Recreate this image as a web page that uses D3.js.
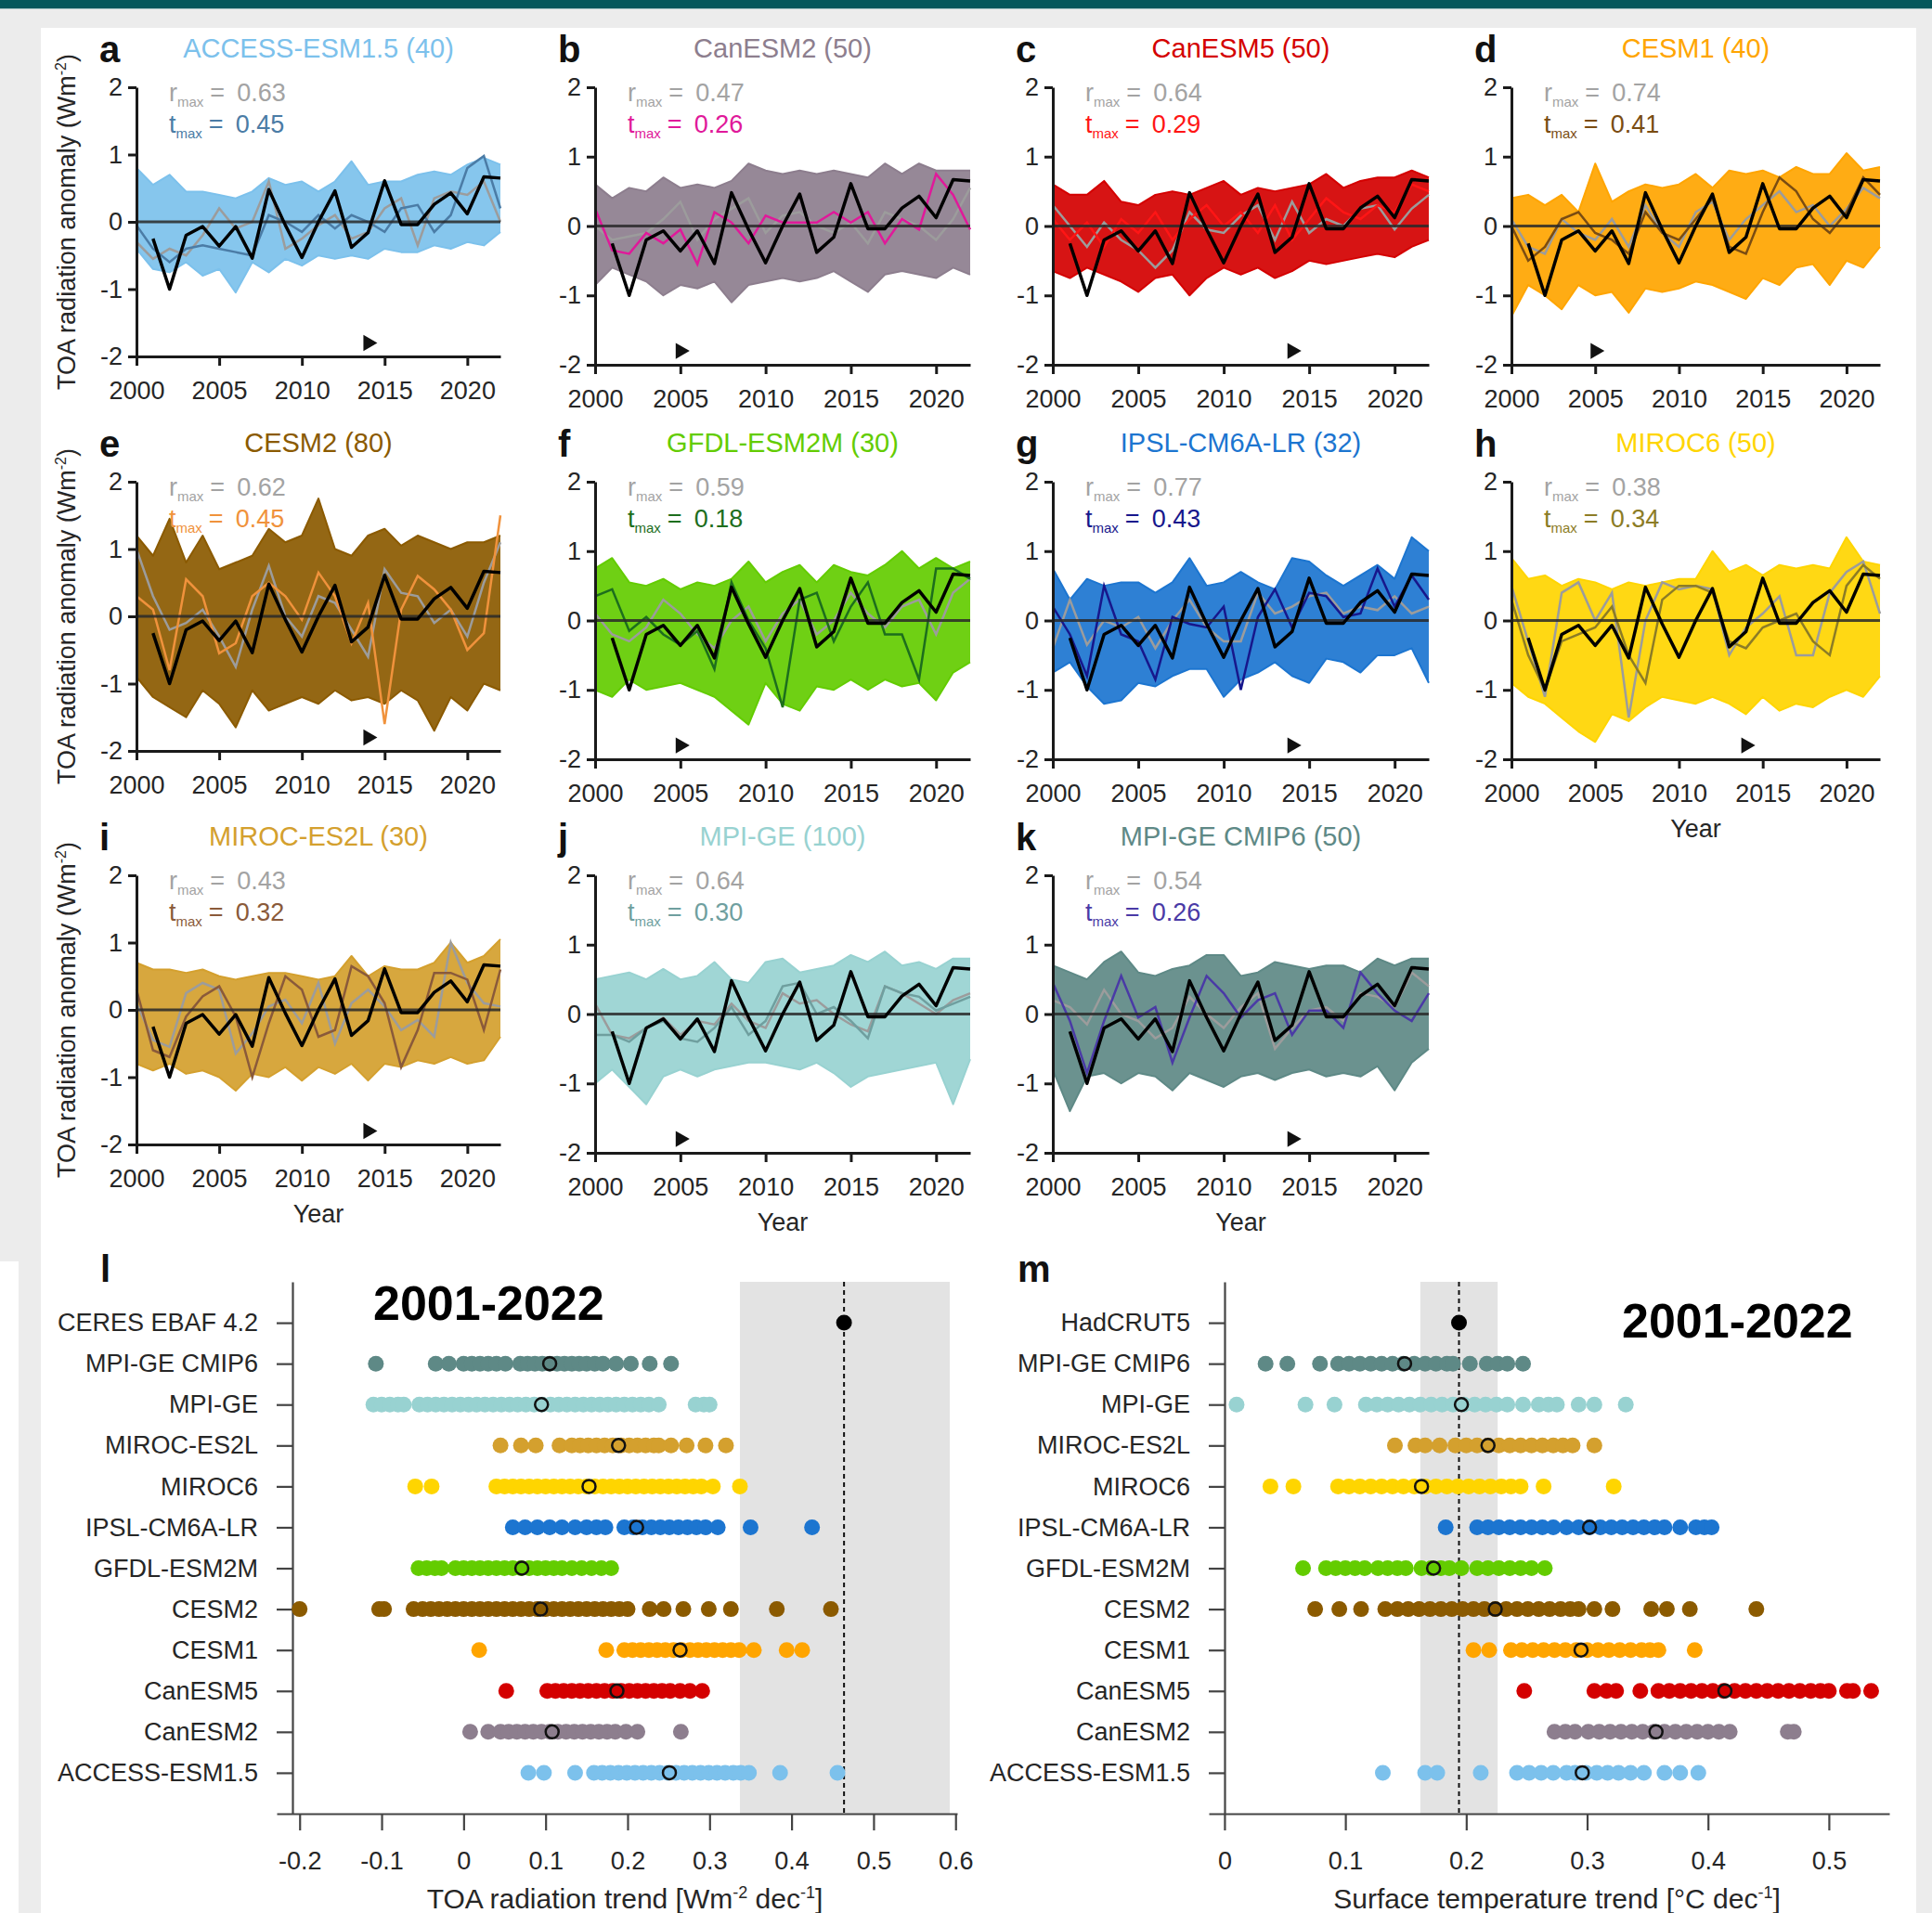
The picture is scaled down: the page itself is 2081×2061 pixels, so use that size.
<!DOCTYPE html>
<html>
<head>
<meta charset="utf-8">
<script src="https://cdn.jsdelivr.net/npm/d3@7"></script>
<style>
  html, body { margin: 0; padding: 0; background: #ececec; }
  svg { display: block; font-family: "Liberation Sans", Arial, Helvetica, sans-serif; }
</style>
</head>
<body>
<svg id="fig" width="2081" height="2061"></svg>
<script>
// ---- Time axis and observed (CERES) anomaly, 2001-2022 ----
const years = [2000, 2001, 2002, 2003, 2004, 2005, 2006, 2007, 2008, 2009, 2010, 2011,
  2012, 2013, 2014, 2015, 2016, 2017, 2018, 2019, 2020, 2021, 2022];
const obsYears = [2001, 2002, 2003, 2004, 2005, 2006, 2007, 2008, 2009, 2010, 2011,
  2012, 2013, 2014, 2015, 2016, 2017, 2018, 2019, 2020, 2021, 2022];
const obsAnom = [-0.25, -1.0, -0.2, -0.07, -0.36, -0.07, -0.54, 0.48, -0.05, -0.53, 0.0,
  0.46, -0.38, -0.16, 0.61, -0.04, -0.04, 0.26, 0.43, 0.12, 0.67, 0.65];
const yTicks = [-2, -1, 0, 1, 2];
const xTicks = [2000, 2005, 2010, 2015, 2020];

// ---- Ensemble envelopes (upper / lower member per year), r_max and t_max members ----
const accessHi = [0.8, 0.55, 0.7, 0.45, 0.45, 0.4, 0.35, 0.45, 0.65, 0.55, 0.6, 0.45, 0.6, 0.9, 0.55, 0.6, 0.6, 0.7, 0.75, 0.7, 0.85, 0.95, 0.85];
const accessLo = [-0.4, -0.7, -0.75, -0.6, -0.8, -0.7, -1.05, -0.6, -0.75, -0.55, -0.65, -0.5, -0.55, -0.5, -0.55, -0.4, -0.45, -0.45, -0.35, -0.4, -0.3, -0.35, -0.15];
const accessR = [-0.3, -0.55, -0.4, -0.5, -0.2, 0.2, -0.1, 0.0, 0.6, -0.4, -0.25, -0.05, 0.1, -0.25, -0.15, 0.2, 0.35, -0.35, 0.35, 0.45, 0.4, 0.6, 0.0];
const accessT = [-0.05, -0.4, -0.6, -0.4, -0.35, -0.4, -0.45, -0.5, 0.1, 0.0, -0.15, 0.1, -0.1, 0.1, 0.0, -0.15, 0.2, 0.25, -0.15, 0.1, 0.8, 0.98, 0.2];

const canesm2Hi = [0.6, 0.4, 0.55, 0.5, 0.7, 0.55, 0.6, 0.55, 0.65, 0.9, 0.8, 0.75, 0.8, 0.75, 0.8, 0.75, 0.7, 0.9, 0.75, 0.9, 0.8, 0.8, 0.8];
const canesm2Lo = [-0.85, -0.6, -0.7, -0.8, -1.0, -0.85, -0.9, -0.8, -1.1, -0.85, -0.8, -0.75, -0.8, -0.75, -0.65, -0.8, -0.95, -0.7, -0.65, -0.7, -0.75, -0.6, -0.7];
const canesm2R = [0.0, -0.2, -0.15, -0.1, 0.1, 0.35, -0.2, 0.1, 0.25, 0.4, -0.1, 0.15, 0.2, 0.0, -0.1, 0.05, -0.25, 0.2, 0.1, 0.0, -0.2, 0.1, 0.55];
const canesm2T = [0.25, -0.35, -0.4, -0.1, -0.25, -0.05, -0.55, 0.2, 0.05, -0.25, 0.15, 0.05, 0.05, 0.05, 0.2, 0.05, 0.2, -0.25, 0.1, -0.05, 0.75, 0.45, -0.05];

const canesm5Hi = [0.6, 0.45, 0.45, 0.65, 0.35, 0.3, 0.45, 0.5, 0.45, 0.55, 0.65, 0.45, 0.55, 0.5, 0.55, 0.6, 0.75, 0.55, 0.65, 0.7, 0.7, 0.8, 0.7];
const canesm5Lo = [-0.65, -0.75, -0.6, -0.7, -0.8, -0.95, -0.75, -0.7, -1.0, -0.75, -0.6, -0.7, -0.6, -0.75, -0.65, -0.5, -0.55, -0.5, -0.45, -0.4, -0.45, -0.3, -0.2];
const canesm5R = [0.3, 0.0, -0.3, 0.05, -0.2, -0.35, -0.6, -0.35, 0.2, -0.05, -0.1, 0.15, 0.3, -0.2, 0.35, -0.1, 0.1, 0.0, 0.25, 0.3, -0.05, 0.25, 0.45];
const canesm5T = [0.1, -0.2, 0.05, -0.3, 0.1, -0.1, 0.2, -0.2, 0.1, 0.3, 0.0, 0.2, -0.1, 0.3, -0.2, 0.1, 0.4, 0.2, 0.1, 0.3, 0.2, 0.6, 0.5];

const cesm1Hi = [0.4, 0.45, 0.3, 0.45, 0.2, 0.9, 0.35, 0.5, 0.6, 0.55, 0.6, 0.75, 0.55, 0.8, 0.75, 0.8, 0.7, 0.85, 0.75, 0.75, 1.05, 0.8, 0.85];
const cesm1Lo = [-1.3, -0.85, -1.0, -1.2, -0.85, -1.0, -0.95, -1.25, -0.9, -0.95, -0.9, -0.8, -0.85, -0.95, -1.05, -0.75, -0.85, -0.6, -0.55, -0.85, -0.5, -0.6, -0.3];
const cesm1R = [0.1, -0.3, -0.4, 0.1, -0.1, -0.2, 0.1, -0.3, 0.3, -0.1, -0.3, 0.2, 0.35, -0.2, 0.1, 0.3, 0.5, 0.2, 0.3, 0.0, 0.25, 0.55, 0.4];
const cesm1T = [0.0, -0.5, -0.3, 0.1, 0.2, -0.1, -0.2, -0.4, 0.2, -0.1, -0.2, 0.1, 0.4, -0.3, -0.4, 0.2, 0.7, 0.5, 0.1, -0.1, 0.2, 0.7, 0.45];

const cesm2Hi = [1.2, 0.9, 1.45, 0.8, 1.2, 0.7, 0.8, 0.9, 1.3, 1.1, 1.2, 1.75, 1.0, 0.9, 1.2, 1.3, 1.05, 1.2, 1.1, 1.0, 1.1, 1.1, 1.2];
const cesm2Lo = [-0.9, -1.2, -1.35, -1.5, -1.1, -1.3, -1.65, -1.1, -1.4, -1.3, -1.2, -1.3, -1.1, -1.25, -1.2, -1.3, -1.1, -1.25, -1.7, -1.2, -1.4, -1.0, -1.1];
const cesm2R = [1.0, 0.3, -0.2, -0.1, 0.1, -0.3, -0.75, 0.1, 0.75, 0.0, -0.3, 0.3, 0.2, -0.2, -0.6, 0.7, 0.35, 0.3, -0.1, 0.1, -0.3, 0.5, 1.1];
const cesm2T = [0.3, 0.1, -0.8, 0.55, 0.3, -0.55, -0.4, 0.3, 0.5, 0.3, -0.05, 0.65, 0.3, -0.4, 0.2, -1.6, 0.1, 0.6, 0.4, 0.1, -0.5, -0.25, 1.5];

const gfdlHi = [0.75, 0.9, 0.55, 0.5, 0.6, 0.45, 0.55, 0.5, 0.6, 0.85, 0.55, 0.7, 0.8, 0.55, 0.8, 0.7, 0.65, 0.8, 1.0, 0.75, 0.9, 0.75, 0.85];
const gfdlLo = [-1.0, -1.1, -0.85, -1.0, -0.95, -0.9, -1.0, -1.1, -1.3, -1.5, -0.9, -1.2, -1.3, -0.95, -1.0, -0.85, -1.0, -0.85, -0.95, -0.9, -1.15, -0.75, -0.6];
const gfdlR = [0.1, -0.2, -0.3, -0.1, 0.3, 0.1, -0.2, -0.4, 0.0, 0.2, -0.3, 0.1, 0.3, -0.2, 0.0, 0.4, 0.1, -0.1, 0.2, 0.3, -0.2, 0.4, 0.6];
const gfdlT = [0.35, 0.45, -0.15, 0.05, -0.2, -0.35, -0.15, -0.7, 0.55, 0.0, -0.4, -1.25, 0.3, 0.4, -0.3, 0.2, 0.55, -0.2, -0.2, -0.85, 0.75, 0.75, 0.6];

const ipslHi = [0.75, 0.3, 0.6, 0.5, 0.55, 0.55, 0.4, 0.55, 0.9, 0.5, 0.55, 0.7, 0.55, 0.45, 0.9, 0.85, 0.65, 0.5, 0.65, 0.8, 0.6, 1.2, 1.0];
const ipslLo = [-0.75, -0.6, -0.95, -1.2, -1.15, -0.9, -0.95, -0.8, -0.7, -0.7, -1.1, -0.85, -0.75, -0.6, -0.8, -0.9, -0.55, -0.6, -0.75, -0.5, -0.5, -0.4, -0.9];
const ipslR = [-0.4, 0.3, -0.35, 0.0, -0.1, 0.05, -0.4, 0.0, 0.3, -0.1, -0.3, -0.3, 0.4, 0.1, 0.2, 0.35, 0.4, 0.1, 0.2, 0.15, 0.35, 0.1, 0.2];
const ipslT = [0.2, -0.2, -0.8, 0.5, -0.2, -0.3, -0.85, 0.05, -0.05, -0.1, 0.2, -1.0, 0.05, 0.45, -0.1, 0.4, 0.35, 0.05, 0.1, 0.75, 0.2, 0.65, 0.3];

const miroc6Hi = [0.9, 0.6, 0.65, 0.5, 0.6, 0.55, 0.45, 0.55, 0.5, 0.55, 0.6, 0.6, 1.0, 0.7, 0.8, 0.65, 0.8, 0.75, 0.8, 0.75, 1.2, 0.85, 0.8];
const miroc6Lo = [-0.9, -1.1, -1.2, -1.4, -1.6, -1.75, -1.35, -1.45, -1.25, -1.1, -1.15, -1.2, -1.1, -1.2, -1.35, -1.1, -1.3, -1.2, -1.25, -1.1, -1.0, -1.1, -0.8];
const miroc6R = [0.5, -0.3, -1.1, 0.4, 0.55, 0.0, 0.4, -1.4, 0.0, 0.55, 0.45, 0.5, 0.45, -0.5, -0.1, 0.1, 0.35, -0.5, -0.5, 0.4, 0.7, 0.85, 0.1];
const miroc6T = [0.3, -0.5, -1.0, -0.3, -0.2, -0.1, 0.2, -0.5, -0.9, 0.3, 0.5, 0.5, 0.4, -0.3, -0.4, -0.1, 0.0, 0.1, -0.3, -0.5, 0.5, 0.8, 0.6];

const mirocesHi = [0.7, 0.6, 0.6, 0.55, 0.6, 0.5, 0.45, 0.5, 0.55, 0.55, 0.5, 0.45, 0.5, 0.8, 0.5, 0.65, 0.6, 0.6, 0.7, 1.0, 0.7, 0.8, 1.05];
const mirocesLo = [-0.8, -0.9, -0.8, -0.95, -0.9, -1.0, -1.2, -0.95, -1.0, -0.85, -1.05, -0.85, -0.95, -0.8, -1.05, -0.8, -0.85, -0.75, -0.8, -0.7, -0.8, -0.75, -0.4];
const mirocesR = [0.1, -0.45, -0.55, 0.25, 0.4, 0.3, -0.65, -0.35, 0.05, 0.15, -0.2, 0.4, -0.5, 0.1, 0.3, 0.05, -0.3, -0.15, -0.4, 1.0, 0.4, 0.1, 0.05];
const mirocesT = [0.3, -0.6, -0.7, -0.1, 0.2, 0.35, -0.1, -1.0, -0.2, 0.5, 0.3, -0.4, -0.3, 0.65, 0.5, 0.1, -0.85, -0.3, 0.55, 0.55, 0.45, -0.3, 0.6];

const mpiHi = [0.5, 0.55, 0.6, 0.5, 0.65, 0.5, 0.55, 0.75, 0.5, 0.45, 0.75, 0.8, 0.6, 0.65, 0.7, 0.85, 0.75, 0.9, 0.7, 0.75, 0.65, 0.8, 0.8];
const mpiLo = [-1.0, -0.8, -1.05, -1.3, -0.9, -0.8, -0.9, -0.8, -0.75, -0.7, -0.7, -0.75, -0.8, -0.7, -0.85, -1.05, -0.9, -0.85, -0.8, -0.75, -0.7, -1.3, -0.65];
const mpiR = [0.15, -0.3, -0.35, -0.2, -0.05, -0.3, -0.1, -0.15, 0.15, -0.1, -0.2, 0.3, 0.15, 0.2, 0.0, -0.15, -0.25, 0.4, 0.3, 0.15, 0.0, 0.2, 0.3];
const mpiT = [-0.3, -0.3, -0.4, -0.2, -0.1, -0.35, -0.4, -0.2, 0.1, -0.3, -0.1, 0.4, 0.45, 0.0, 0.1, -0.1, -0.35, 0.4, 0.3, 0.25, 0.05, 0.15, 0.25];

const mpi6Hi = [0.7, 0.6, 0.5, 0.75, 0.9, 0.6, 0.55, 0.65, 0.7, 0.85, 0.85, 0.55, 0.6, 0.75, 0.7, 0.65, 0.7, 0.7, 0.6, 0.8, 0.7, 0.8, 0.8];
const mpi6Lo = [-0.8, -1.4, -0.9, -0.85, -1.0, -0.85, -0.9, -1.1, -0.85, -0.95, -1.05, -0.9, -0.85, -0.95, -0.85, -0.8, -0.9, -0.85, -0.9, -0.75, -1.1, -0.7, -0.5];
const mpi6R = [0.2, 0.1, -0.15, 0.35, 0.0, -0.1, -0.35, -0.2, 0.25, 0.0, -0.2, 0.1, 0.3, -0.5, -0.2, 0.05, 0.1, -0.1, 0.3, 0.25, 0.1, 0.6, 0.4];
const mpi6T = [0.45, -0.1, -0.85, -0.1, 0.55, -0.05, 0.1, -0.7, -0.05, 0.55, 0.3, -0.05, 0.2, 0.3, -0.3, 0.05, 0.05, -0.2, 0.6, 0.3, 0.05, -0.1, 0.3];

// ---- Panel l: TOA radiation trend per member [W m-2 dec-1] ----
const toaCats = ['CERES EBAF 4.2', 'MPI-GE CMIP6', 'MPI-GE', 'MIROC-ES2L', 'MIROC6', 'IPSL-CM6A-LR',
  'GFDL-ESM2M', 'CESM2', 'CESM1', 'CanESM5', 'CanESM2', 'ACCESS-ESM1.5'];
const toaTicks = [-0.2, -0.1, 0, 0.1, 0.2, 0.3, 0.4, 0.5, 0.6];
const toaObs = [0.464];
const toaObsRange = [0.337, 0.593];
const toaMpi6 = [-0.107, -0.034, -0.018, 0.0, 0.01, 0.02, 0.03, 0.04, 0.051, 0.069, 0.078, 0.087, 0.096, 0.105, 0.114, 0.123, 0.132, 0.141, 0.15, 0.16, 0.17, 0.186, 0.204, 0.227, 0.253];
const toaMpi = [-0.11, -0.1, -0.09, -0.08, -0.073, -0.054, -0.044, -0.034, -0.024, -0.014, -0.004, 0.006, 0.016, 0.026, 0.036, 0.046, 0.056, 0.066, 0.076, 0.086, 0.096, 0.106, 0.116, 0.126, 0.136, 0.146, 0.156, 0.166, 0.176, 0.186, 0.196, 0.206, 0.216, 0.226, 0.238, 0.283, 0.293, 0.3];
const toaMirocEs = [0.045, 0.07, 0.088, 0.117, 0.132, 0.142, 0.152, 0.162, 0.172, 0.182, 0.192, 0.202, 0.212, 0.222, 0.232, 0.238, 0.253, 0.272, 0.295, 0.32];
const toaMiroc6 = [-0.059, -0.039, 0.04, 0.05, 0.06, 0.07, 0.08, 0.09, 0.1, 0.11, 0.12, 0.13, 0.14, 0.15, 0.16, 0.17, 0.18, 0.19, 0.2, 0.21, 0.22, 0.23, 0.24, 0.25, 0.26, 0.27, 0.28, 0.29, 0.304, 0.337];
const toaIpsl = [0.06, 0.075, 0.09, 0.105, 0.12, 0.136, 0.15, 0.162, 0.173, 0.196, 0.207, 0.218, 0.229, 0.24, 0.251, 0.262, 0.273, 0.284, 0.295, 0.31, 0.35, 0.425];
const toaGfdl = [-0.055, -0.045, -0.035, -0.027, -0.01, 0.0, 0.01, 0.02, 0.03, 0.04, 0.05, 0.06, 0.07, 0.08, 0.09, 0.1, 0.11, 0.12, 0.132, 0.144, 0.156, 0.168, 0.18];
const toaCesm2 = [-0.2, -0.103, -0.097, -0.061, -0.05, -0.04, -0.03, -0.02, -0.01, 0.0, 0.01, 0.02, 0.03, 0.04, 0.05, 0.06, 0.07, 0.08, 0.09, 0.1, 0.11, 0.12, 0.13, 0.14, 0.15, 0.16, 0.17, 0.18, 0.19, 0.2, 0.227, 0.244, 0.268, 0.299, 0.326, 0.382, 0.448];
const toaCesm1 = [0.019, 0.174, 0.196, 0.206, 0.216, 0.226, 0.236, 0.246, 0.256, 0.266, 0.276, 0.286, 0.296, 0.306, 0.316, 0.326, 0.336, 0.354, 0.394, 0.413];
const toaCanesm5 = [0.052, 0.102, 0.112, 0.122, 0.132, 0.142, 0.152, 0.162, 0.172, 0.182, 0.192, 0.202, 0.212, 0.222, 0.232, 0.242, 0.252, 0.264, 0.276, 0.291];
const toaCanesm2 = [0.008, 0.03, 0.045, 0.055, 0.065, 0.075, 0.085, 0.095, 0.105, 0.115, 0.125, 0.135, 0.145, 0.155, 0.165, 0.175, 0.185, 0.198, 0.212, 0.265];
const toaAccess = [0.079, 0.098, 0.136, 0.159, 0.169, 0.179, 0.189, 0.199, 0.209, 0.219, 0.229, 0.239, 0.249, 0.259, 0.269, 0.279, 0.289, 0.299, 0.309, 0.319, 0.329, 0.338, 0.348, 0.386, 0.456];
const toaMeans = [null, 0.105, 0.095, 0.189, 0.153, 0.211, 0.071, 0.094, 0.264, 0.187, 0.108, 0.251];

// ---- Panel m: surface temperature trend per member [degC dec-1] ----
const tasCats = ['HadCRUT5', 'MPI-GE CMIP6', 'MPI-GE', 'MIROC-ES2L', 'MIROC6', 'IPSL-CM6A-LR',
  'GFDL-ESM2M', 'CESM2', 'CESM1', 'CanESM5', 'CanESM2', 'ACCESS-ESM1.5'];
const tasTicks = [0, 0.1, 0.2, 0.3, 0.4, 0.5];
const tasObs = [0.194];
const tasObsRange = [0.162, 0.226];
const tasMpi6 = [0.034, 0.052, 0.079, 0.094, 0.103, 0.112, 0.121, 0.13, 0.139, 0.148, 0.157, 0.166, 0.175, 0.184, 0.189, 0.203, 0.217, 0.226, 0.234, 0.247];
const tasMpi = [0.01, 0.067, 0.091, 0.117, 0.126, 0.135, 0.144, 0.153, 0.162, 0.171, 0.18, 0.189, 0.198, 0.207, 0.216, 0.225, 0.234, 0.247, 0.26, 0.268, 0.275, 0.293, 0.306, 0.332];
const tasMirocEs = [0.141, 0.158, 0.166, 0.178, 0.191, 0.2, 0.209, 0.218, 0.227, 0.236, 0.245, 0.254, 0.263, 0.272, 0.28, 0.288, 0.306];
const tasMiroc6 = [0.038, 0.057, 0.094, 0.103, 0.112, 0.121, 0.13, 0.139, 0.148, 0.157, 0.166, 0.175, 0.184, 0.193, 0.202, 0.211, 0.22, 0.229, 0.237, 0.245, 0.264, 0.322];
const tasIpsl = [0.183, 0.209, 0.218, 0.227, 0.236, 0.245, 0.254, 0.263, 0.272, 0.283, 0.293, 0.302, 0.311, 0.32, 0.329, 0.338, 0.347, 0.356, 0.364, 0.377, 0.39, 0.397, 0.403];
const tasGfdl = [0.065, 0.084, 0.092, 0.1, 0.108, 0.116, 0.127, 0.135, 0.143, 0.15, 0.163, 0.171, 0.179, 0.186, 0.196, 0.209, 0.218, 0.227, 0.236, 0.245, 0.254, 0.265];
const tasCesm2 = [0.075, 0.095, 0.113, 0.133, 0.143, 0.152, 0.161, 0.17, 0.179, 0.188, 0.197, 0.206, 0.215, 0.224, 0.233, 0.242, 0.251, 0.26, 0.269, 0.278, 0.286, 0.293, 0.306, 0.321, 0.353, 0.366, 0.385, 0.44];
const tasCesm1 = [0.206, 0.219, 0.237, 0.246, 0.255, 0.264, 0.273, 0.282, 0.291, 0.3, 0.309, 0.318, 0.327, 0.336, 0.345, 0.352, 0.359, 0.389];
const tasCanesm5 = [0.248, 0.306, 0.316, 0.324, 0.344, 0.359, 0.368, 0.377, 0.386, 0.395, 0.404, 0.413, 0.422, 0.431, 0.44, 0.449, 0.458, 0.467, 0.476, 0.485, 0.493, 0.5, 0.515, 0.52, 0.535];
const tasCanesm2 = [0.273, 0.282, 0.29, 0.301, 0.31, 0.319, 0.328, 0.337, 0.346, 0.355, 0.364, 0.373, 0.382, 0.391, 0.4, 0.409, 0.418, 0.466, 0.471];
const tasAccess = [0.131, 0.166, 0.176, 0.212, 0.242, 0.252, 0.262, 0.272, 0.283, 0.29, 0.299, 0.308, 0.317, 0.326, 0.336, 0.347, 0.364, 0.377, 0.392];
const tasMeans = [null, 0.149, 0.196, 0.218, 0.163, 0.302, 0.173, 0.224, 0.295, 0.414, 0.357, 0.296];

// ---- Model styling table built from the arrays above ----
const modelColor = {
  'ACCESS-ESM1.5': '#7cc1ec', 'CanESM2': '#8d7e8e', 'CanESM5': '#d40000', 'CESM1': '#ffa500',
  'CESM2': '#8b5a00', 'GFDL-ESM2M': '#63cc00', 'IPSL-CM6A-LR': '#1c75d0', 'MIROC6': '#ffd500',
  'MIROC-ES2L': '#d4a02e', 'MPI-GE': '#98d2d1', 'MPI-GE CMIP6': '#5e8986',
};

const panels = [
  { id: 'a', name: 'ACCESS-ESM1.5', n: 40, row: 0, col: 0, r: '0.63', t: '0.45', tColor: '#4b7ca6', tri: 2014, hi: accessHi, lo: accessLo, rl: accessR, tl: accessT },
  { id: 'b', name: 'CanESM2', n: 50, row: 0, col: 1, r: '0.47', t: '0.26', tColor: '#e0199a', tri: 2005, hi: canesm2Hi, lo: canesm2Lo, rl: canesm2R, tl: canesm2T },
  { id: 'c', name: 'CanESM5', n: 50, row: 0, col: 2, r: '0.64', t: '0.29', tColor: '#ff1515', tri: 2014, hi: canesm5Hi, lo: canesm5Lo, rl: canesm5R, tl: canesm5T },
  { id: 'd', name: 'CESM1', n: 40, row: 0, col: 3, r: '0.74', t: '0.41', tColor: '#7a4c12', tri: 2005, hi: cesm1Hi, lo: cesm1Lo, rl: cesm1R, tl: cesm1T },
  { id: 'e', name: 'CESM2', n: 80, row: 1, col: 0, r: '0.62', t: '0.45', tColor: '#f0923c', tri: 2014, hi: cesm2Hi, lo: cesm2Lo, rl: cesm2R, tl: cesm2T },
  { id: 'f', name: 'GFDL-ESM2M', n: 30, row: 1, col: 1, r: '0.59', t: '0.18', tColor: '#1d6e1d', tri: 2005, hi: gfdlHi, lo: gfdlLo, rl: gfdlR, tl: gfdlT },
  { id: 'g', name: 'IPSL-CM6A-LR', n: 32, row: 1, col: 2, r: '0.77', t: '0.43', tColor: '#17178c', tri: 2014, hi: ipslHi, lo: ipslLo, rl: ipslR, tl: ipslT },
  { id: 'h', name: 'MIROC6', n: 50, row: 1, col: 3, r: '0.38', t: '0.34', tColor: '#8c7c26', tri: 2014, hi: miroc6Hi, lo: miroc6Lo, rl: miroc6R, tl: miroc6T, year: true },
  { id: 'i', name: 'MIROC-ES2L', n: 30, row: 2, col: 0, r: '0.43', t: '0.32', tColor: '#8a5a3a', tri: 2014, hi: mirocesHi, lo: mirocesLo, rl: mirocesR, tl: mirocesT, year: true },
  { id: 'j', name: 'MPI-GE', n: 100, row: 2, col: 1, r: '0.64', t: '0.30', tColor: '#6f9f9f', tri: 2005, hi: mpiHi, lo: mpiLo, rl: mpiR, tl: mpiT, year: true },
  { id: 'k', name: 'MPI-GE CMIP6', n: 50, row: 2, col: 2, r: '0.54', t: '0.26', tColor: '#4a3aa6', tri: 2014, hi: mpi6Hi, lo: mpi6Lo, rl: mpi6R, tl: mpi6T, year: true },
];

const toaMembers = [toaObs, toaMpi6, toaMpi, toaMirocEs, toaMiroc6, toaIpsl, toaGfdl, toaCesm2, toaCesm1, toaCanesm5, toaCanesm2, toaAccess];
const tasMembers = [tasObs, tasMpi6, tasMpi, tasMirocEs, tasMiroc6, tasIpsl, tasGfdl, tasCesm2, tasCesm1, tasCanesm5, tasCanesm2, tasAccess];

// ---- Page frame ----
const svg = d3.select('#fig');
svg.append('rect').attr('width', 2081).attr('height', 2061).attr('fill', '#ececec');
svg.append('rect').attr('width', 2081).attr('height', 9).attr('fill', '#04575b');
svg.append('rect').attr('y', 9).attr('width', 2081).attr('height', 1).attr('fill', '#a9c6c6');
svg.append('rect').attr('x', 44).attr('y', 30).attr('width', 2020).attr('height', 2031).attr('fill', '#fff');
svg.append('rect').attr('x', 0).attr('y', 1359).attr('width', 20).attr('height', 702).attr('fill', '#fff');

// Panel grid (pixel frame of each time-series panel)
const panelCols = [{ x0: 147, x1: 539 }, { x0: 641, x1: 1045 }, { x0: 1134, x1: 1539 }, { x0: 1628, x1: 2025 }];
const panelRows = [94, 519, 943];
const AX = '#1a1a1a';
const LBL = '#262626';

function styleAxis(sel, fs, sw, col) {
  sel.select('.domain').attr('stroke', col || AX).attr('stroke-width', sw);
  sel.selectAll('.tick line').attr('stroke', col || AX).attr('stroke-width', sw);
  sel.selectAll('.tick text').attr('fill', LBL).attr('font-size', fs)
    .attr('font-family', '"Liberation Sans", Arial, sans-serif');
}

function drawSeriesPanel(p) {
  const top = panelRows[p.row];
  const bottom = top + (p.col === 0 ? 290 : 299);
  const { x0, x1 } = panelCols[p.col];
  const color = modelColor[p.name];
  const x = d3.scaleLinear().domain([2000, 2022]).range([x0, x1]);
  const y = d3.scaleLinear().domain([-2, 2]).range([bottom, top]);
  const g = svg.append('g');

  // ensemble spread
  const band = d3.area().x((d, i) => x(years[i])).y0((d, i) => y(p.lo[i])).y1((d, i) => y(p.hi[i]));
  g.append('path').datum(p.hi).attr('d', band).attr('fill', color).attr('opacity', 0.92);
  const line = d3.line().x((d, i) => x(years[i])).y(d => y(d));
  [p.hi, p.lo].forEach(s => {
    g.append('path').datum(s).attr('d', line).attr('fill', 'none')
      .attr('stroke', color).attr('stroke-width', 2).attr('stroke-linejoin', 'round');
  });

  // r_max and t_max members
  g.append('path').datum(p.rl).attr('d', line).attr('fill', 'none')
    .attr('stroke', '#9c9c9c').attr('stroke-width', 2.5);
  g.append('path').datum(p.tl).attr('d', line).attr('fill', 'none')
    .attr('stroke', p.tColor).attr('stroke-width', 2.5);

  // zero line
  g.append('line').attr('x1', x(2000)).attr('x2', x(2022)).attr('y1', y(0)).attr('y2', y(0))
    .attr('stroke', '#2a2a2a').attr('stroke-width', 3).attr('opacity', 0.85);

  // observations
  g.append('path').datum(obsAnom)
    .attr('d', d3.line().x((d, i) => x(obsYears[i])).y(d => y(d)))
    .attr('fill', 'none').attr('stroke', '#000').attr('stroke-width', 3.5).attr('stroke-linejoin', 'round');

  // marker for year of maximum
  g.append('path').attr('d', d3.symbol().type(d3.symbolTriangle).size(130)())
    .attr('transform', `translate(${x(p.tri)},${y(-1.8)}) rotate(90)`).attr('fill', '#111');

  // axes
  const ax = g.append('g').attr('transform', `translate(0,${bottom})`)
    .call(d3.axisBottom(x).tickValues(xTicks).tickFormat(d3.format('d')).tickSize(10).tickSizeOuter(0).tickPadding(17));
  styleAxis(ax, 27, 3);
  const ay = g.append('g').attr('transform', `translate(${x0},0)`)
    .call(d3.axisLeft(y).tickValues(yTicks).tickFormat(d => String(d)).tickSize(9).tickSizeOuter(0).tickPadding(6));
  styleAxis(ay, 27, 3);

  // title and panel letter
  g.append('text').attr('x', (x0 + x1) / 2).attr('y', top - 32).attr('text-anchor', 'middle')
    .attr('font-size', 29).attr('fill', color).text(`${p.name} (${p.n})`);
  g.append('text').attr('x', x0 - 40).attr('y', top - 27).attr('font-size', 40)
    .attr('font-weight', 'bold').attr('fill', '#111').text(p.id);

  // r_max / t_max annotation
  const addStat = (sym, val, fill, yy) => {
    const t = g.append('text').attr('x', x0 + 35).attr('y', yy).attr('font-size', 27).attr('fill', fill);
    t.append('tspan').text(sym);
    t.append('tspan').attr('font-size', 15).attr('dy', 6).text('max');
    t.append('tspan').attr('dy', -6).attr('dx', 7).text('=');
    t.append('tspan').attr('dx', 13).text(val);
  };
  addStat('r', p.r, '#a3a3a3', top + 15);
  addStat('t', p.t, p.tColor, top + 49);

  if (p.col === 0) {
    const lab = g.append('text').attr('transform', `translate(81,${(top + bottom) / 2}) rotate(-90)`)
      .attr('text-anchor', 'middle').attr('font-size', 27).attr('fill', LBL);
    lab.append('tspan').text('TOA radiation anomaly (Wm');
    lab.append('tspan').attr('font-size', 16).attr('dy', -10).text('-2');
    lab.append('tspan').attr('dy', 10).text(')');
  }
  if (p.year) {
    g.append('text').attr('x', (x0 + x1) / 2).attr('y', bottom + 84).attr('text-anchor', 'middle')
      .attr('font-size', 27).attr('fill', LBL).text('Year');
  }
}

panels.forEach(drawSeriesPanel);

// ---- Trend dot panels ----
function drawDotPanel(cfg) {
  const x = d3.scaleLinear().domain(cfg.dom).range(cfg.range);
  const y = d3.scalePoint().domain(cfg.cats).range([1381, 1954]).padding(1);
  const g = svg.append('g');

  g.append('rect').attr('x', x(cfg.obsRange[0])).attr('y', 1381)
    .attr('width', x(cfg.obsRange[1]) - x(cfg.obsRange[0])).attr('height', 1954 - 1381).attr('fill', '#e3e3e3');
  g.append('line').attr('x1', x(cfg.members[0][0])).attr('x2', x(cfg.members[0][0]))
    .attr('y1', 1381).attr('y2', 1954).attr('stroke', '#111').attr('stroke-width', 2).attr('stroke-dasharray', '5,4');

  const ay = g.append('g').attr('transform', `translate(${cfg.range[0] + 17},0)`)
    .call(d3.axisLeft(y).tickSize(17).tickSizeOuter(0).tickPadding(20));
  styleAxis(ay, 27, 2.2, '#444');
  const ax = g.append('g').attr('transform', 'translate(0,1954)')
    .call(d3.axisBottom(x).tickValues(cfg.ticks).tickFormat(d => String(+d.toFixed(1)))
      .tickSize(18).tickSizeOuter(0).tickPadding(23));
  styleAxis(ax, 27, 2.2, '#444');

  cfg.cats.forEach((c, i) => {
    const fill = i === 0 ? '#000' : modelColor[c];
    g.append('g').selectAll('circle').data(cfg.members[i]).join('circle')
      .attr('cx', d => x(d)).attr('cy', y(c)).attr('r', 8.5).attr('fill', fill);
    if (cfg.means[i] !== null) {
      g.append('circle').attr('cx', x(cfg.means[i])).attr('cy', y(c)).attr('r', 7)
        .attr('fill', 'none').attr('stroke', '#111').attr('stroke-width', 2.5);
    }
  });

  g.append('text').attr('x', cfg.letterX).attr('y', 1381).attr('font-size', 40)
    .attr('font-weight', 'bold').attr('fill', '#111').text(cfg.letter);
  g.append('text').attr('x', cfg.periodX).attr('y', cfg.periodY).attr('font-size', 52)
    .attr('font-weight', 'bold').attr('fill', '#000').text('2001-2022');

  // axis title with superscripts: dy shifts are carried on the following text run
  const t = g.append('text').attr('x', cfg.titleX).attr('y', 2056).attr('text-anchor', 'middle')
    .attr('font-size', 30).attr('fill', LBL);
  let shift = 0;
  cfg.title.forEach(part => {
    if (part.sup) {
      t.append('tspan').attr('font-size', 18).attr('dy', -11 - shift).text(part.sup);
      shift = -11;
    } else {
      t.append('tspan').attr('dy', -shift).text(part.txt);
      shift = 0;
    }
  });
}

drawDotPanel({
  cats: toaCats, members: toaMembers, means: toaMeans, ticks: toaTicks, obsRange: toaObsRange,
  dom: [-0.228, 0.602], range: [298, 1031], letter: 'l', letterX: 108,
  periodX: 402, periodY: 1422, titleX: 673,
  title: [{ txt: 'TOA radiation trend [Wm' }, { sup: '-2' }, { txt: ' dec' }, { sup: '-1' }, { txt: ']' }],
});
drawDotPanel({
  cats: tasCats, members: tasMembers, means: tasMeans, ticks: tasTicks, obsRange: tasObsRange,
  dom: [-0.013, 0.55], range: [1302, 2035], letter: 'm', letterX: 1096,
  periodX: 1747, periodY: 1441, titleX: 1677,
  title: [{ txt: 'Surface temperature trend [°C dec' }, { sup: '-1' }, { txt: ']' }],
});
</script>
</body>
</html>
